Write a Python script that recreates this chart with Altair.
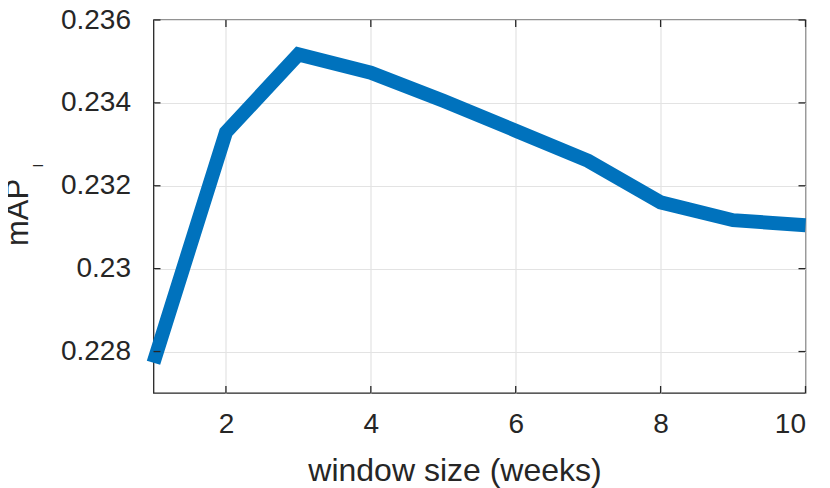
import altair as alt
import pandas as pd

window_weeks = [1, 2, 3, 4, 5, 6, 7, 8, 9, 10]
map_values = [0.22773, 0.23329, 0.23517, 0.23473, 0.23405, 0.23333, 0.23260, 0.23160, 0.23117, 0.23105]
x_ticks = [2, 4, 6, 8, 10]
y_ticks = [0.228, 0.230, 0.232, 0.234, 0.236]

W, H = 652, 373
FONT = "Liberation Sans"
INK = "#262626"

df = pd.DataFrame({"w": window_weeks, "m": map_values})
xt = pd.DataFrame({"t": x_ticks})
yt = pd.DataFrame({"t": y_ticks})

xs = alt.Scale(domain=[1, 10], nice=False, zero=False)
ys = alt.Scale(domain=[0.227, 0.236], nice=False, zero=False)

x_axis = alt.Axis(values=x_ticks, ticks=False, domain=False, grid=True, format="d",
                  gridColor="#e3e3e3", gridWidth=1.2,
                  labelFont=FONT, labelFontSize=28, labelColor=INK, labelPadding=17,
                  title="window size (weeks)", titleFont=FONT, titleFontSize=32,
                  titleFontWeight="normal", titleColor=INK,
                  titleX=301, titleY=87, titleAlign="center", titleBaseline="alphabetic")
y_axis = alt.Axis(values=y_ticks, ticks=False, domain=False, grid=True,
                  gridColor="#e3e3e3", gridWidth=1.2, format=".3~f",
                  labelFont=FONT, labelFontSize=28, labelColor=INK, labelPadding=23,
                  title=None)

line = alt.Chart(df).mark_line(color="#0072BD", strokeWidth=14, strokeCap="butt").encode(
    x=alt.X("w:Q", scale=xs, axis=x_axis),
    y=alt.Y("m:Q", scale=ys, axis=y_axis),
)

tick_len = 7
xb = alt.Chart(xt).mark_rule(color=INK, strokeWidth=1.3).encode(
    x=alt.X("t:Q", scale=xs), y=alt.value(H), y2=alt.value(H - tick_len))
xtp = alt.Chart(xt).mark_rule(color=INK, strokeWidth=1.3).encode(
    x=alt.X("t:Q", scale=xs), y=alt.value(0), y2=alt.value(tick_len))
yl = alt.Chart(yt).mark_rule(color=INK, strokeWidth=1.3).encode(
    y=alt.Y("t:Q", scale=ys), x=alt.value(0), x2=alt.value(tick_len))
yr = alt.Chart(yt).mark_rule(color=INK, strokeWidth=1.3).encode(
    y=alt.Y("t:Q", scale=ys), x=alt.value(W - tick_len), x2=alt.value(W))

title_main = alt.Chart(pd.DataFrame({"s": ["mAP"]})).mark_text(
    font=FONT, fontSize=31, color=INK, angle=270, align="center", baseline="alphabetic"
).encode(text="s:N", x=alt.value(-125.5), y=alt.value(192.5))
title_sub = alt.Chart(pd.DataFrame({"s": ["I"]})).mark_text(
    font=FONT, fontSize=14, color=INK, angle=270, align="center", baseline="alphabetic"
).encode(text="s:N", x=alt.value(-110.5), y=alt.value(145.5))

chart = alt.layer(line, xb, xtp, yl, yr, title_main, title_sub).properties(
    width=W, height=H,
    autosize=alt.AutoSizeParams(type="none"),
    padding={"left": 145.5, "top": 12, "right": 16, "bottom": 95},
).configure_view(stroke=INK, strokeWidth=1.3)

chart.save("out.html", embed_options={"renderer": "svg", "actions": False})
